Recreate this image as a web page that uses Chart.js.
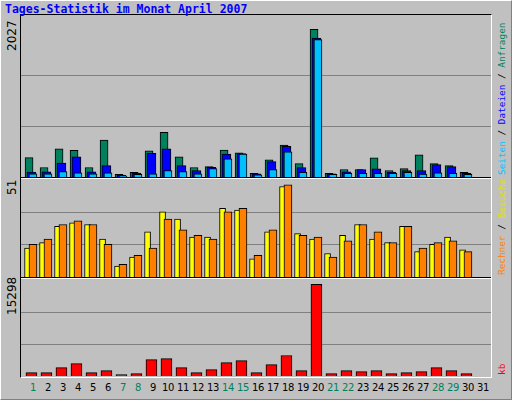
<!DOCTYPE html>
<html>
<head>
<meta charset="utf-8">
<script src="https://cdn.jsdelivr.net/npm/chart.js@4/dist/chart.umd.min.js"></script>
<style>
body { margin: 0; background: #fff; }
#frame { position: absolute; left: 0; top: 0; width: 510px; height: 398px; background: #c0c0c0;
  border-left: 1px solid #fff; border-top: 1px solid #fff; border-right: 1px solid #808080; border-bottom: 1px solid #808080; }
#plot { position: absolute; left: 20px; top: 14px; width: 470px; height: 362px; border-left: 1px solid #000; border-top: 1px solid #000; border-right: 1px solid #fff; border-bottom: 1px solid #fff; }
.sep { position: absolute; left: 21px; width: 470px; height: 1px; background: #000; }
.sepw { position: absolute; left: 21px; width: 470px; height: 1px; background: #fff; }
canvas { position: absolute; left: 21px; }
.title { position: absolute; left: 5px; top: 2px; font: bold 11.5px "DejaVu Sans Mono", monospace; color: #0000ff; }
.vl { position: absolute; transform-origin: 0 0; transform: rotate(-90deg); white-space: nowrap; }
.max { font: 12px "DejaVu Sans", sans-serif; color: #000; left: 5px; }
.leg { font: 9.4px "DejaVu Sans Mono", monospace; left: 496px; }
.day { position: absolute; top: 382px; width: 20px; margin-left: -10px; text-align: center; font: 10px "DejaVu Sans", sans-serif; letter-spacing: -0.3px; }
</style>
</head>
<body>
<div id="frame"></div>
<div id="plot"></div>
<div class="title">Tages-Statistik im Monat April 2007</div>
<div class="sep" style="top:177px"></div><div class="sepw" style="top:178px"></div>
<div class="sep" style="top:277px"></div><div class="sepw" style="top:278px"></div>
<canvas id="c1" width="470" height="152" style="top:25px"></canvas>
<canvas id="c2" width="470" height="97" style="top:180px"></canvas>
<canvas id="c3" width="470" height="96" style="top:280px"></canvas>
<div class="vl max" style="top:51px">2027</div>
<div class="vl max" style="top:195px">51</div>
<div class="vl max" style="top:315px">15298</div>
<div class="vl leg" style="top:175px"><span style="color:#00c0ff">Seiten</span> / <span style="color:#0000ff">Dateien</span> / <span style="color:#00805c">Anfragen</span></div>
<div class="vl leg" style="top:275px"><span style="color:#ff8000">Rechner</span> / <span style="color:#e0e000">Besuche</span></div>
<div class="vl leg" style="top:375px"><span style="color:#ff0000">kb</span></div>
<div id="days"></div>
<script>
// Daten: Tage im April 2007
const days = [1,2,3,4,5,6,7,8,9,10,11,12,13,14,15,16,17,18,19,20,21,22,23,24,25,26,27,28,29,30];
const allDays = [1,2,3,4,5,6,7,8,9,10,11,12,13,14,15,16,17,18,19,20,21,22,23,24,25,26,27,28,29,30,31];
const weekendDays = [1,7,8,14,15,21,22,28,29];

const anfragen = [265,130,385,367,130,505,36,63,358,612,277,130,143,371,331,49,237,438,183,2027,49,103,103,264,89,116,304,183,156,63];
const dateien  = [67,72,192,277,72,156,22,54,326,385,156,89,134,313,322,45,210,420,130,1907,45,72,103,112,67,89,89,170,143,49];
const seiten   = [45,45,76,58,45,58,13,36,45,89,76,45,116,250,313,31,103,344,63,1885,36,49,49,49,49,63,40,58,49,36];

const besuche  = [16,19,28,30,29,21,6,11,25,36,32,22,22,38,37,10,25,50,24,21,13,23,29,21,19,28,14,18,22,15];
const rechner  = [18,21,29,31,29,18,7,12,16,32,26,23,21,36,38,12,26,51,23,22,11,20,29,25,19,28,16,19,20,14];

const kb = [560,560,1400,2072,560,896,224,392,2744,2912,1400,560,1064,2240,2576,560,1904,3416,896,15298,392,896,728,896,392,560,728,1400,896,392];

// Hilfsfunktion: Werte auf die x-Achse mit Versatz legen
function points(values, shift) {
    return values.map((v, i) => ({ x: days[i] + shift, y: v }));
}

function makeChart(id, yMax, datasets) {
    return new Chart(document.getElementById(id), {
        type: 'bar',
        data: { datasets: datasets },
        options: {
            responsive: false,
            devicePixelRatio: 1,
            animation: false,
            layout: { padding: 0 },
            plugins: { legend: { display: false }, tooltip: { enabled: false } },
            datasets: { bar: { grouped: false, borderColor: '#000', borderWidth: 1, borderSkipped: 'bottom' } },
            scales: {
                x: { type: 'linear', offset: false, min: 1 / 3, max: 31 + 2 / 3, display: false },
                y: {
                    min: 0, max: yMax,
                    afterBuildTicks: axis => { axis.ticks = [0, 1, 2, 3].map(k => ({ value: yMax * k / 3 })); },
                    ticks: { display: false },
                    border: { display: false },
                    grid: { drawTicks: false, lineWidth: ctx => (ctx.index === 1 || ctx.index === 2) ? 1 : 0, color: '#808080' }
                }
            }
        }
    });
}

makeChart('c1', 2086, [
    { data: points(seiten, 0.13), backgroundColor: '#00c0ff', barThickness: 8, order: 0 },
    { data: points(dateien, 0.03), backgroundColor: '#0000ff', barThickness: 9, order: 1 },
    { data: points(anfragen, -0.13), backgroundColor: '#00805c', barThickness: 8, order: 2 }
]);
makeChart('c2', 53.6, [
    { data: points(rechner, 0.13), backgroundColor: '#ff8000', barThickness: 8, order: 0 },
    { data: points(besuche, -0.23), backgroundColor: '#ffff00', barThickness: 6, order: 1 }
]);
makeChart('c3', 16020, [
    { data: points(kb, 0.03), backgroundColor: '#ff0000', barThickness: 11 }
]);

// Tagesbeschriftung
const daysBox = document.getElementById('days');
allDays.forEach(d => {
    const el = document.createElement('div');
    el.className = 'day';
    el.style.left = (33 + 15 * (d - 1)) + 'px';
    el.style.color = weekendDays.includes(d) ? '#00805c' : '#000';
    el.textContent = d;
    daysBox.appendChild(el);
});
</script>
</body>
</html>
